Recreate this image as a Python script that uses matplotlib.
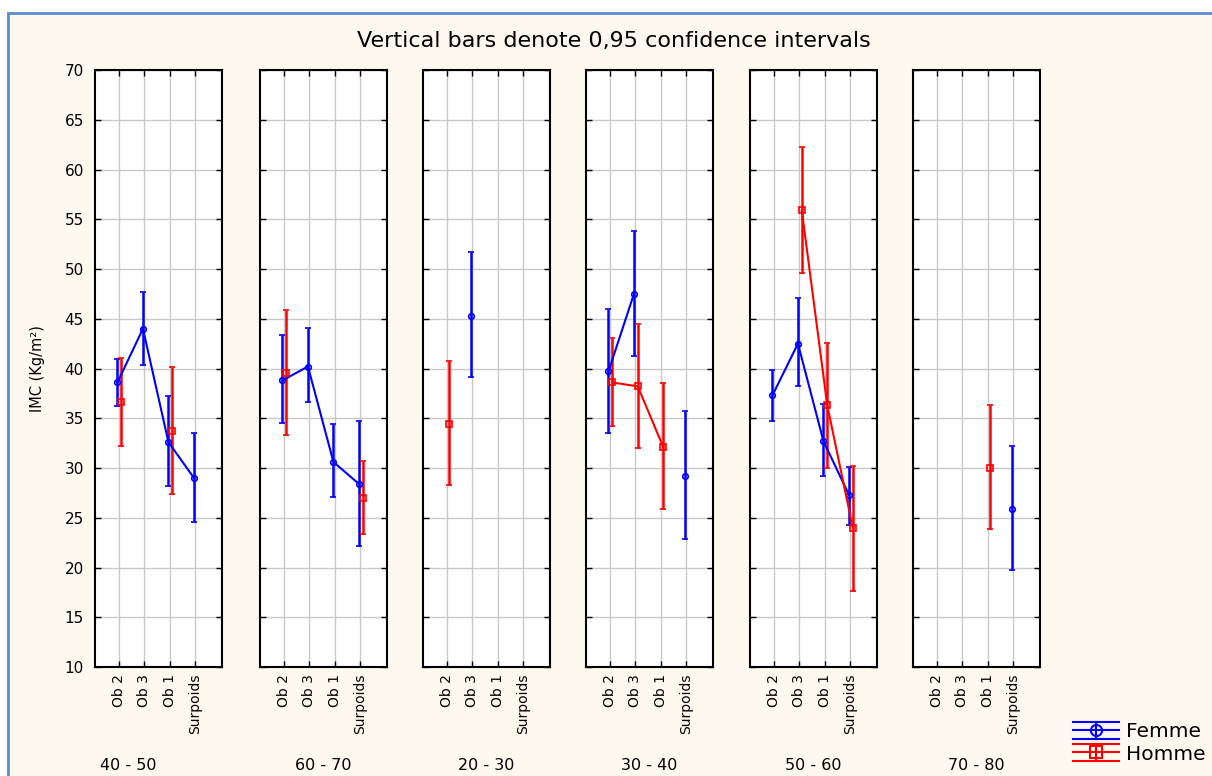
import numpy as np
import matplotlib.pyplot as plt
from matplotlib.patches import Rectangle
from matplotlib.lines import Line2D
from matplotlib.legend_handler import HandlerBase

plt.rcParams['font.family'] = ['DejaVu Sans']

nan = np.nan

# ---- donnees ----
groups = ['40 - 50', '60 - 70', '20 - 30', '30 - 40', '50 - 60', '70 - 80']
categories = ['Ob 2', 'Ob 3', 'Ob 1', 'Surpoids']

femme_mean = [[38.6, 44.0, 32.6, 29.0],
              [38.8, 40.2, 30.6, 28.4],
              [nan, 45.3, nan, nan],
              [39.7, 47.5, nan, 29.2],
              [37.3, 42.5, 32.7, 27.3],
              [nan, nan, nan, 25.9]]
femme_low = [[36.2, 40.4, 28.2, 24.6],
             [34.5, 36.6, 27.1, 22.2],
             [nan, 39.1, nan, nan],
             [33.5, 41.3, nan, 22.9],
             [34.7, 38.2, 29.2, 24.3],
             [nan, nan, nan, 19.7]]
femme_high = [[41.0, 47.7, 37.2, 33.5],
              [43.4, 44.1, 34.4, 34.7],
              [nan, 51.7, nan, nan],
              [46.0, 53.8, nan, 35.7],
              [39.8, 47.1, 36.4, 30.1],
              [nan, nan, nan, 32.2]]

homme_mean = [[36.6, nan, 33.7, nan],
              [39.5, nan, nan, 27.0],
              [34.4, nan, nan, nan],
              [38.6, 38.2, 32.1, nan],
              [nan, 55.9, 36.3, 24.0],
              [nan, nan, 30.0, nan]]
homme_low = [[32.2, nan, 27.4, nan],
             [33.3, nan, nan, 23.4],
             [28.3, nan, nan, nan],
             [34.2, 32.0, 25.9, nan],
             [nan, 49.6, 30.0, 17.6],
             [nan, nan, 23.9, nan]]
homme_high = [[41.1, nan, 40.2, nan],
              [45.9, nan, nan, 30.7],
              [40.8, nan, nan, nan],
              [43.1, 44.5, 38.5, nan],
              [nan, 62.3, 42.6, 30.25],
              [nan, nan, 36.35, nan]]

W, H = 1212, 776
fig = plt.figure(figsize=(W / 100, H / 100), dpi=100, facecolor='white')

# fond creme + cadre bleu
fig.patches.append(Rectangle((8 / W, -0.05), 1.1, 1 - 13 / H + 0.05,
                             transform=fig.transFigure, facecolor='#fdf9ee',
                             edgecolor='#5b8bd0', lw=2, zorder=-10))

lefts = [95, 260, 423, 586, 750, 913]
pw = 127
top, bot = 70, 667
x = np.arange(len(categories))

series = [('Femme', 'blue', 'o', -0.05, femme_mean, femme_low, femme_high),
          ('Homme', 'red', 's', 0.10, homme_mean, homme_low, homme_high)]

for i, g in enumerate(groups):
    ax = fig.add_axes([lefts[i] / W, 1 - bot / H, pw / W, (bot - top) / H])
    ax.set_facecolor('white')
    for name, col, mk, dx, m, lo, hi in series:
        mm = np.array(m[i])
        err = np.vstack([mm - np.array(lo[i]), np.array(hi[i]) - mm])
        ax.errorbar(x + dx, mm, yerr=err, color=col, marker=mk, ms=5 if mk == 's' else 4,
                    mfc='none', mec=col, mew=1.2, lw=1.5, elinewidth=1.8, capsize=2, capthick=1.2)
    ax.set_xlim(-0.93, 4.05)
    ax.set_ylim(10, 70)
    ax.set_yticks(np.arange(10, 71, 5))
    ax.set_xticks(x)
    ax.set_xticklabels(categories, rotation=90, fontsize=10)
    ax.grid(True, color='#c8c8c8', lw=1)
    ax.set_axisbelow(True)
    ax.tick_params(direction='in', length=4, width=1, top=True, right=True, pad=5)
    if i > 0:
        ax.tick_params(labelleft=False)
    else:
        ax.tick_params(axis='y', labelsize=11, pad=8)
        ax.set_ylabel('IMC (Kg/m²)', fontsize=10.5)
        ax.yaxis.set_label_coords(-0.39, 0.5)
    for s in ax.spines.values():
        s.set_linewidth(1.5)
    cx = (lefts[i] + pw / 2) / W
    if i == 0:
        cx = 128 / W
    fig.text(cx, 1 - 766 / H, g, ha='center', va='center', fontsize=11.5)

fig.text(614 / W, 1 - 41 / H, 'Vertical bars denote 0,95 confidence intervals',
         ha='center', va='center', fontsize=16)


# ---- legende style Statistica ----
class BarHandler(HandlerBase):
    def create_artists(self, legend, orig, xd, yd, w, h, fs, trans):
        c = orig.get_color()
        x0, x1 = -xd, -xd + w
        ym = -yd + h / 2
        xm = (x0 + x1) / 2
        d = h * 0.6
        arts = [Line2D([x0, x1], [ym, ym]),
                Line2D([x0, x1], [ym + d, ym + d]),
                Line2D([x0, x1], [ym - d, ym - d]),
                Line2D([xm, xm], [ym - d, ym + d]),
                Line2D([xm], [ym], marker=orig.get_marker(), ms=8, mfc='none', mew=1.5)]
        for a in arts:
            a.set_color(c)
            a.set_linewidth(1.5)
            a.set_transform(trans)
        return arts


handles = [Line2D([], [], color='blue', marker='o'), Line2D([], [], color='red', marker='s')]
fig.legend(handles, ['Femme', 'Homme'], loc='center left', bbox_to_anchor=(1063 / W, 1 - 743 / H),
           frameon=False, fontsize=14.5, handler_map={Line2D: BarHandler()},
           handlelength=2.3, handletextpad=0.35, labelspacing=0.15, borderpad=0)

fig.savefig('out.png', dpi=100, facecolor=fig.get_facecolor())
